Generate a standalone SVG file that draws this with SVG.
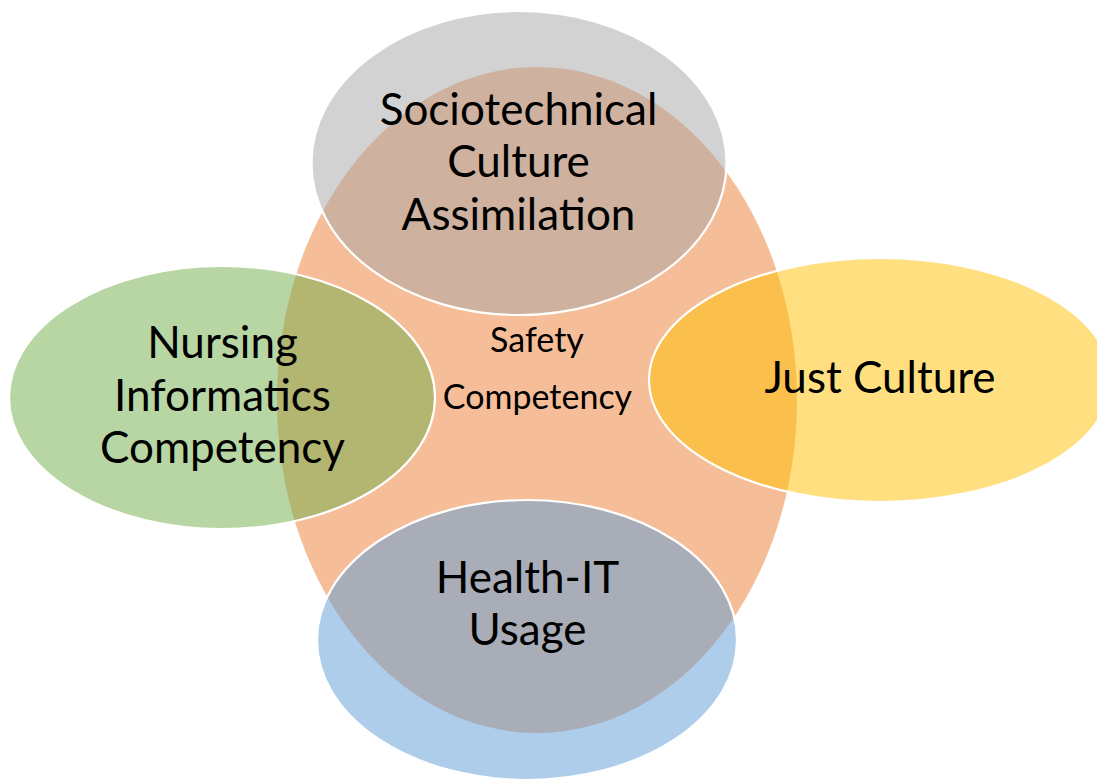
<svg xmlns="http://www.w3.org/2000/svg" width="1097" height="779" viewBox="0 0 1097 779">
  <style>
    .bubble { fill-opacity: 0.5; stroke: #FFFFFF; stroke-width: 2.2; }
    .core { fill: #ED7D31; fill-opacity: 0.5; stroke: none; }
    .label { font-family: Lato, "Open Sans", "Liberation Sans", sans-serif; font-size: 44px; fill: #000000; text-anchor: middle; }
    .label-small { font-family: Lato, "Open Sans", "Liberation Sans", sans-serif; font-size: 34px; fill: #000000; text-anchor: middle; }
  </style>
  <rect width="1097" height="779" fill="#FFFFFF"/>

  <!-- central circle -->
  <g id="safety-competency">
    <ellipse class="core" cx="537" cy="400" rx="260" ry="333"/>
  </g>

  <g id="sociotechnical-culture">
    <ellipse class="bubble" fill="#A5A5A5" cx="519" cy="163" rx="207.5" ry="152"/>
    <text class="label" x="518.5" y="125">Sociotechnical</text>
    <text class="label" x="518.5" y="177">Culture</text>
    <text class="label" x="518.5" y="230">Assimilation</text>
  </g>

  <g id="nursing-informatics">
    <ellipse class="bubble" fill="#70AD47" cx="222" cy="397.5" rx="213" ry="131.5"/>
    <text class="label" x="222.5" y="358">Nursing</text>
    <text class="label" x="222.5" y="411">Informatics</text>
    <text class="label" x="222.5" y="463">Competency</text>
  </g>

  <g id="just-culture">
    <ellipse class="bubble" fill="#FFC000" cx="880" cy="380" rx="231" ry="122"/>
    <text class="label" x="880" y="393">Just Culture</text>
  </g>

  <g id="health-it-usage">
    <ellipse class="bubble" fill="#5B9BD5" cx="527" cy="640" rx="210" ry="140"/>
    <text class="label" x="527.5" y="593">Health-IT</text>
    <text class="label" x="527.5" y="645">Usage</text>
  </g>

  <!-- central label sits above the overlaps -->
  <g id="safety-competency-label">
    <text class="label-small" x="537" y="352">Safety</text>
    <text class="label-small" x="537.5" y="409">Competency</text>
  </g>
</svg>
